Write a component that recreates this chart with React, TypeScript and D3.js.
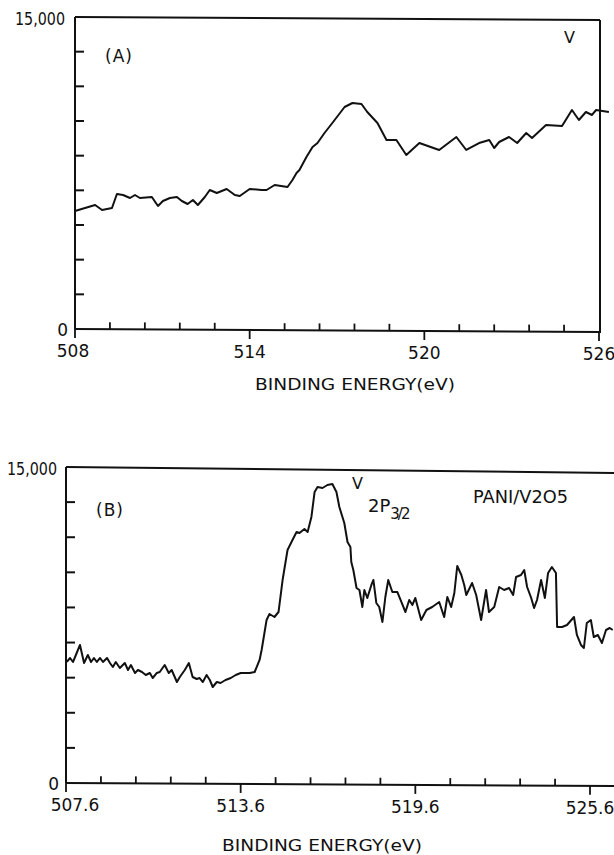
import React from 'react';
import * as d3 from 'd3';

// panel A: V 2p spectrum, binding energy (eV) vs counts
const energyA = [
  508.0, 508.69, 508.93, 509.27, 509.44, 509.65, 509.89, 510.06, 510.23, 510.64,
  510.85, 511.02, 511.26, 511.5, 511.67, 511.87, 512.05, 512.22, 512.46, 512.63,
  512.87, 513.21, 513.49, 513.66, 514.0, 514.41, 514.58, 514.86, 515.3, 515.47,
  515.61, 515.71, 515.95, 516.16, 516.33, 516.57, 516.84, 517.26, 517.53, 517.84,
  518.04, 518.39, 518.7, 519.04, 519.38, 519.83, 520.51, 521.1, 521.44, 521.88,
  522.23, 522.4, 522.57, 522.91, 523.19, 523.5, 523.7, 524.18, 524.73, 525.07,
  525.31, 525.55, 525.76, 525.9, 526.34,
];
const countsA = [
  5673, 5962, 5721, 5817, 6490, 6442, 6298, 6442, 6298, 6346,
  5913, 6154, 6298, 6346, 6154, 6010, 6202, 5962, 6346, 6683,
  6539, 6731, 6442, 6394, 6731, 6683, 6683, 6923, 6827, 7163,
  7500, 7644, 8269, 8750, 8942, 9423, 9904, 10673, 10866, 10818,
  10433, 9904, 9087, 9087, 8366, 8942, 8606, 9231, 8606, 8942,
  9087, 8702, 8990, 9231, 8942, 9423, 9183, 9808, 9760, 10529,
  10048, 10433, 10289, 10529, 10433,
];

// panel B: PANI/V2O5
const energyB = [
  507.63, 507.74, 507.84, 507.94, 508.08, 508.22, 508.35, 508.46, 508.56, 508.66,
  508.77, 508.87, 509.01, 509.11, 509.21, 509.31, 509.45, 509.62, 509.73, 509.83,
  509.97, 510.07, 510.21, 510.34, 510.48, 510.58, 510.72, 510.82, 510.99, 511.13,
  511.23, 511.41, 511.51, 511.68, 511.82, 511.95, 512.09, 512.19, 512.3, 512.43,
  512.54, 512.64, 512.78, 512.91, 513.08, 513.26, 513.43, 513.6, 513.74, 513.91,
  514.08, 514.25, 514.32, 514.49, 514.59, 514.76, 514.9, 515.04, 515.21, 515.38,
  515.52, 515.62, 515.79, 515.9, 516.03, 516.14, 516.24, 516.41, 516.58, 516.75,
  516.89, 516.99, 517.16, 517.27, 517.37, 517.4, 517.47, 517.58, 517.68, 517.78,
  517.85, 517.95, 518.09, 518.16, 518.26, 518.36, 518.47, 518.57, 518.67, 518.81,
  518.98, 519.12, 519.26, 519.39, 519.5, 519.6, 519.8, 519.98, 520.18, 520.42,
  520.59, 520.7, 520.83, 520.94, 521.04, 521.18, 521.28, 521.35, 521.55, 521.69,
  521.86, 522.03, 522.13, 522.31, 522.48, 522.65, 522.82, 522.96, 523.06, 523.23,
  523.34, 523.44, 523.58, 523.68, 523.78, 523.92, 524.05, 524.16, 524.29, 524.43,
  524.47, 524.64, 524.81, 525.05, 525.15, 525.29, 525.39, 525.49, 525.63, 525.73,
  525.87, 526.01, 526.15, 526.28, 526.38,
];
const countsB = [
  5744, 5934, 5744, 6076, 6551, 5696, 6076, 5744, 5934, 5744,
  5934, 5744, 5934, 5696, 5507, 5744, 5459, 5696, 5364, 5601,
  5222, 5364, 5269, 5127, 5222, 4984, 5222, 5269, 5601, 5222,
  5364, 4794, 5032, 5364, 5696, 5032, 4937, 4984, 4794, 5127,
  4889, 4557, 4794, 4747, 4889, 4984, 5127, 5222, 5222, 5222,
  5269, 5839, 6314, 7738, 8022, 7880, 8117, 9636, 11061, 11535,
  11915, 11868, 12057, 11915, 12627, 13814, 14051, 14004, 14146, 14194,
  13814, 13102, 12342, 11440, 11203, 10491, 10111, 9257, 9162, 8355,
  9162, 8782, 9399, 9636, 8545, 8355, 7643, 8829, 9636, 9067,
  9067, 8592, 8117, 8687, 8450, 8782, 7738, 8212, 8355, 8592,
  7880, 8829, 8355, 9019, 10301, 9874, 9399, 8924, 9494, 8924,
  7738, 9162, 8117, 8355, 9304, 9162, 9257, 8924, 9779, 9874,
  10111, 9304, 8782, 8307, 8687, 9636, 8782, 9969, 10254, 9969,
  7405, 7405, 7500, 7880, 7026, 6551, 6408, 7595, 7738, 6931,
  7026, 6646, 7263, 7358, 7263,
];

const labelsA = [508, 514, 520, 526];
const labelsB = [507.6, 513.6, 519.6, 525.6];
const yLabels = ['0', '15,000'];

const font = 'DejaVu Sans';
const ink = '#111';

function Panel({ x, y, energy, counts, labels, fmt, right, topDrop, botDrop, titleY, titleX, firstShift, topLabelEnd }) {
  const [e0, e1] = x.domain();
  const x0 = x(e0);
  const yb = y(0);
  const yt = y(15000);
  const pts = energy.map((e, i) => [e, counts[i]]);
  const path = d3.line().x((d) => x(d[0])).y((d) => y(d[1]))(pts);
  const slope = (px) => yb + ((px - x0) / (right - x0)) * botDrop;
  const minor = d3.range(e0 + 1.2, e1 + 0.5, 1.2).filter((v) => !labels.some((l) => Math.abs(l - v) < 0.1));
  const yTicks = d3.range(1, 9).map((i) => (i * 15000) / 9);
  return (
    <g>
      <line x1={x0} y1={yt} x2={x0} y2={yb} stroke={ink} strokeWidth={2} />
      <line x1={x0} y1={yb} x2={right} y2={yb + botDrop} stroke={ink} strokeWidth={2} />
      <line x1={x0} y1={yt} x2={right} y2={yt + topDrop} stroke={ink} strokeWidth={2} />
      {yTicks.map((v) => (
        <line key={v} x1={x0} x2={x0 + 9} y1={y(v)} y2={y(v)} stroke={ink} strokeWidth={2} />
      ))}
      {minor.map((v) => (
        <line key={v} x1={x(v)} x2={x(v)} y1={slope(x(v))} y2={slope(x(v)) - 7} stroke={ink} strokeWidth={1.8} />
      ))}
      {labels.map((v) => (
        <line key={v} x1={x(v)} x2={x(v)} y1={slope(x(v))} y2={slope(x(v)) + 9} stroke={ink} strokeWidth={1.8} />
      ))}
      <path d={path} fill="none" stroke={ink} strokeWidth={2} strokeLinejoin="round" />
      <text x={x0 - 7} y={yb + 7} textAnchor="end" fontSize={17}>{yLabels[0]}</text>
      <text x={topLabelEnd} y={yt + 8} textAnchor="end" fontSize={17} textLength={50} lengthAdjust="spacingAndGlyphs">
        {yLabels[1]}
      </text>
      {labels.map((v, i) => (
        <text key={v} x={x(v) + (i === 0 ? firstShift : 0)} y={slope(x(v)) + 28} textAnchor="middle" fontSize={17}>
          {fmt(v)}
        </text>
      ))}
      <text x={titleX} y={titleY} fontSize={16.5} textLength={200} lengthAdjust="spacingAndGlyphs">
        BINDING ENERGY(eV)
      </text>
    </g>
  );
}

export default function App() {
  const xA = d3.scaleLinear().domain([508, 526]).range([75, 599]);
  const yA = d3.scaleLinear().domain([0, 15000]).range([329, 17]);
  const xB = d3.scaleLinear().domain([507.6, 525.6]).range([66, 590]);
  const yB = d3.scaleLinear().domain([0, 15000]).range([783, 467]);
  return (
    <svg
      width={614}
      height={855}
      style={{ position: 'absolute', left: 0, top: 0, background: '#fff' }}
      fontFamily={font}
      fill={ink}
    >
      <Panel
        x={xA} y={yA} energy={energyA} counts={countsA} labels={labelsA}
        fmt={(v) => String(v)} right={600} topDrop={3} botDrop={3}
        titleX={255} titleY={390} firstShift={-2} topLabelEnd={65}
      />
      <line x1={600} y1={20} x2={600} y2={333} stroke={ink} strokeWidth={2} />
      <text x={105} y={62} fontSize={17} letterSpacing={1}>(A)</text>
      <text x={564} y={43} fontSize={16}>V</text>

      <Panel
        x={xB} y={yB} energy={energyB} counts={countsB} labels={labelsB}
        fmt={(v) => v.toFixed(1)} right={614} topDrop={6} botDrop={3}
        titleX={222} titleY={851} firstShift={9} topLabelEnd={57}
      />
      <text x={96} y={516} fontSize={17} letterSpacing={1}>(B)</text>
      <text x={352} y={489} fontSize={16}>V</text>
      <text x={368} y={512} fontSize={18}>
        2P
        <tspan dy={7} fontSize={15} letterSpacing={-2}>3/2</tspan>
      </text>
      <text x={473} y={503} fontSize={17} textLength={95} lengthAdjust="spacingAndGlyphs">PANI/V2O5</text>
    </svg>
  );
}
